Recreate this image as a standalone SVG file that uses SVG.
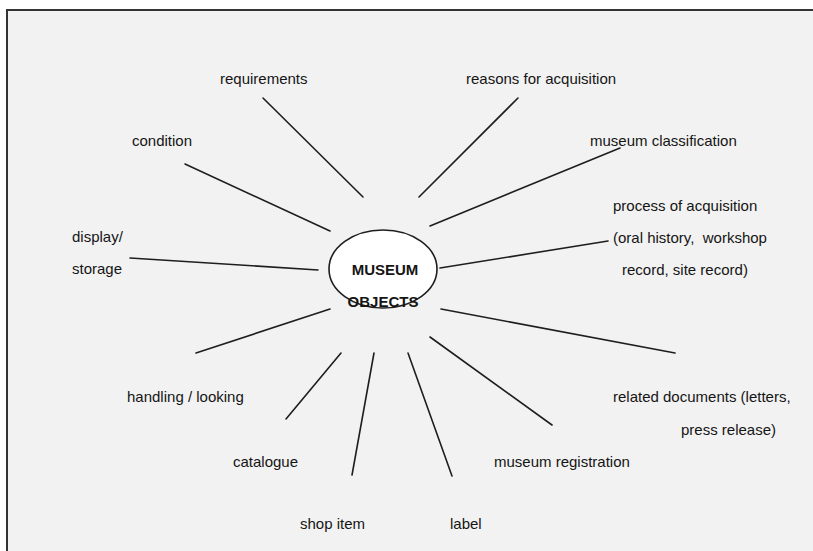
<svg xmlns="http://www.w3.org/2000/svg" width="813" height="551" viewBox="0 0 813 551">
<style>
.lbl{font-family:"Liberation Sans",Arial,sans-serif;font-size:15px;fill:#151515;white-space:pre}
.ctr{font-family:"Liberation Sans",Arial,sans-serif;font-size:15px;font-weight:bold;fill:#151515;text-anchor:middle}
.conn line{stroke:#1e1e1e;stroke-width:1.6;stroke-linecap:round}
</style>
<rect x="0" y="0" width="813" height="551" fill="#ffffff"/>
<rect x="7" y="10" width="820" height="560" fill="#f2f2f2" stroke="#333333" stroke-width="2"/>
<g id="connectors" class="conn">
<line x1="363" y1="197" x2="263" y2="98"/>
<line x1="419" y1="197" x2="518" y2="98"/>
<line x1="330" y1="231" x2="185" y2="164"/>
<line x1="430" y1="226" x2="620" y2="148"/>
<line x1="318" y1="270" x2="130" y2="258"/>
<line x1="440" y1="268" x2="608" y2="241"/>
<line x1="330" y1="309" x2="196" y2="353"/>
<line x1="441" y1="309" x2="675" y2="353"/>
<line x1="341" y1="353" x2="286" y2="419"/>
<line x1="430" y1="337" x2="552" y2="425"/>
<line x1="374" y1="353" x2="352" y2="475"/>
<line x1="408" y1="353" x2="452" y2="476"/>
</g>
<g id="center">
<ellipse cx="383" cy="269" rx="54" ry="39" fill="#ffffff" stroke="#1e1e1e" stroke-width="1.6"/>
<text class="ctr" x="385" y="275">MUSEUM</text>
<text class="ctr" x="383" y="307">OBJECTS</text>
</g>
<g id="requirements"><text class="lbl" x="220" y="84">requirements</text></g>
<g id="reasons"><text class="lbl" x="466" y="84">reasons for acquisition</text></g>
<g id="condition"><text class="lbl" x="132" y="146">condition</text></g>
<g id="classification"><text class="lbl" x="590" y="146">museum classification</text></g>
<g id="process"><text class="lbl" x="613" y="211">process of acquisition</text><text class="lbl" x="613" y="243">(oral history,  workshop</text><text class="lbl" x="622" y="275">record, site record)</text></g>
<g id="display"><text class="lbl" x="72" y="242">display/</text><text class="lbl" x="72" y="274">storage</text></g>
<g id="handling"><text class="lbl" x="127" y="402">handling / looking</text></g>
<g id="related"><text class="lbl" x="613" y="402">related documents (letters,</text><text class="lbl" x="681" y="435">press release)</text></g>
<g id="catalogue"><text class="lbl" x="233" y="467">catalogue</text></g>
<g id="registration"><text class="lbl" x="494" y="467">museum registration</text></g>
<g id="shop"><text class="lbl" x="300" y="529">shop item</text></g>
<g id="label"><text class="lbl" x="450" y="529">label</text></g>
</svg>
